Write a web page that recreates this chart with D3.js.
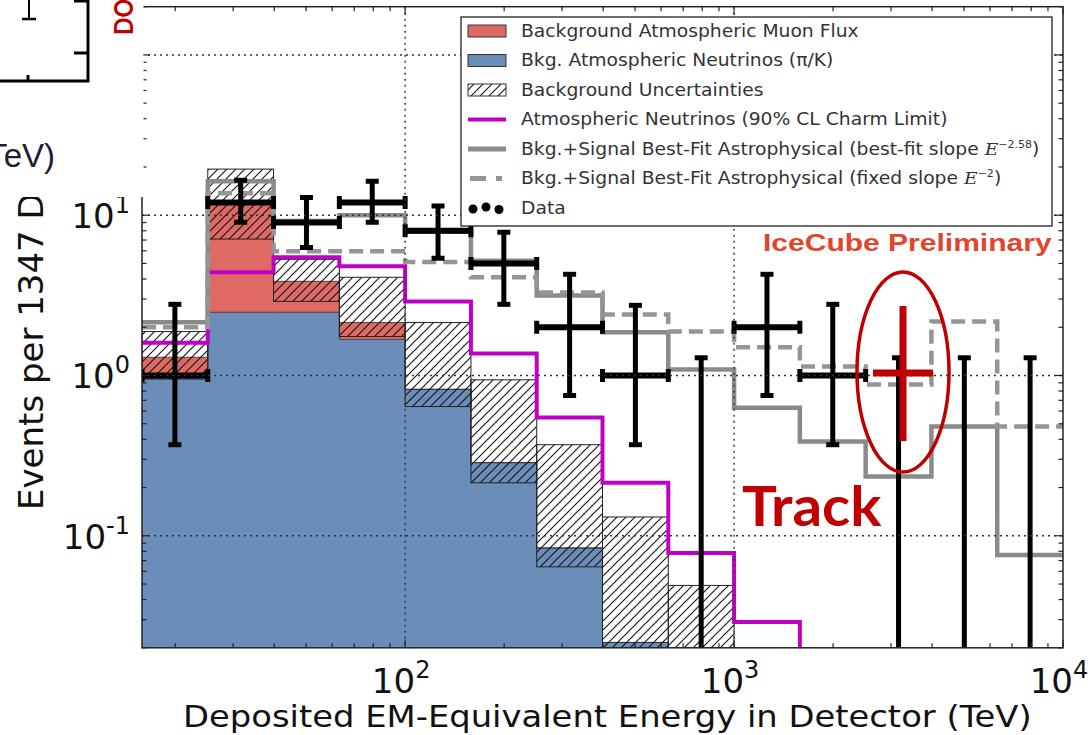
<!DOCTYPE html>
<html>
<head>
<meta charset="utf-8">
<script src="https://cdn.jsdelivr.net/npm/d3@7"></script>
<style>
  body { margin: 0; background: #fff; }
  svg { display: block; }
</style>
</head>
<body>
<svg id="chart" width="1092" height="735"></svg>
<script>
// Energy bin edges (TeV), 0.2 decades each
const binEdges = [15.85, 25.12, 39.81, 63.10, 100, 158.5, 251.2, 398.1, 631.0, 1000, 1585, 2512, 3981, 6310, 10000];

// Conventional atmospheric neutrinos (pi/K), events per bin
const convNeutrinos = [0.97, 2.48, 2.48, 1.68, 0.82, 0.286, 0.084, 0.0216, 0.006, 0.002, 0.0007, 0.0002, 0.00008, 0.00003];
// Atmospheric muons, stacked on top of the neutrinos
const muonFlux = [0.33, 9.8, 1.39, 0.46, 0, 0, 0, 0, 0, 0, 0, 0, 0, 0];
// Background uncertainty band
const bandLow = [0.95, 7.1, 2.9, 1.75, 0.64, 0.214, 0.064, 0.015, 0.004, 0.001, 0.0004, 0.0001, 0.00005, 0.00002];
const bandHigh = [1.88, 19.4, 5.31, 4.1, 2.14, 0.94, 0.37, 0.131, 0.049, 0.012, 0.005, 0.002, 0.001, 0.0005];
// 90% CL charm limit
const charmLimit = [1.60, 4.4, 5.46, 4.8, 2.9, 1.37, 0.546, 0.214, 0.078, 0.029, 0.009, 0.004, 0.002, 0.001];
// Background + astrophysical signal
const bestFitSlope = [2.15, 16.3, 9.2, 10.0, 7.9, 5.2, 3.16, 1.86, 1.09, 0.63, 0.387, 0.234, 0.48, 0.076];
const fixedSlope = [2.0, 13.7, 5.96, 5.96, 5.1, 4.1, 3.3, 2.4, 1.88, 1.5, 1.14, 0.88, 2.17, 0.48];

// Observed events and their error-bar extents
const dataCounts = [1, 12, 9, 12, 8, 5, 2, 1, 0, 2, 1, 0, 0, 0];
const dataErrLow = [0.37, 9.04, 6.3, 9.04, 5.39, 2.78, 0.75, 0.37, 0, 0.75, 0.37, 0, 0, 0];
const dataErrHigh = [2.78, 16.5, 12.9, 16.3, 11.4, 7.83, 4.28, 2.74, 1.29, 4.28, 2.78, 1.29, 1.29, 1.29];

// Axis ticks
const xMajorTicks = [100, 1000, 10000];
const xMajorExps = ["2", "3", "4"];
const yMajorTicks = [0.1, 1, 10];
const yMajorExps = ["-1", "0", "1"];
const gridX = [100, 1000];
const gridY = [0.1, 1, 10, 100];

const legendLabels = [
  "Background Atmospheric Muon Flux",
  "Bkg. Atmospheric Neutrinos (\u03c0/K)",
  "Background Uncertainties",
  "Atmospheric Neutrinos (90% CL Charm Limit)",
  "Bkg.+Signal Best-Fit Astrophysical (best-fit slope ",
  "Bkg.+Signal Best-Fit Astrophysical (fixed slope ",
  "Data"
];
const legendExps = [null, null, null, null, "\u22122.58", "\u22122", null];

const COL = {
  blue: "#6b8dba",
  red: "#df6a63",
  magenta: "#c000c8",
  gray: "#8a8a8a",
  grayDash: "#959595",
  annot: "#c00000",
  prelim: "#e2452c"
};

const plot = { left: 142, right: 1063, top: 6.7, bottom: 647.8 };
const svg = d3.select("#chart");

const x = d3.scaleLog().domain([binEdges[0], binEdges[binEdges.length - 1]]).range([plot.left, plot.right]);
const y = d3.scaleLog().domain([0.02, 200]).range([plot.bottom, plot.top]);
const yc = v => (v > 0 ? y(v) : plot.bottom + 60);

const defs = svg.append("defs");
defs.append("clipPath").attr("id", "plotClip")
  .append("rect")
  .attr("x", plot.left).attr("y", plot.top)
  .attr("width", plot.right - plot.left).attr("height", plot.bottom - plot.top);
const hatch = defs.append("pattern").attr("id", "hatch")
  .attr("patternUnits", "userSpaceOnUse").attr("width", 9).attr("height", 9);
hatch.append("path")
  .attr("d", "M-1,1 l2,-2 M0,9 l9,-9 M8,10 l2,-2")
  .attr("stroke", "#111").attr("stroke-width", 1.1);

const bins = d3.range(binEdges.length - 1).map(i => ({
  x0: binEdges[i], x1: binEdges[i + 1],
  conv: convNeutrinos[i], muon: muonFlux[i],
  lo: bandLow[i], hi: bandHigh[i],
  count: dataCounts[i], eLo: dataErrLow[i], eHi: dataErrHigh[i]
}));

const hist = svg.append("g").attr("clip-path", "url(#plotClip)");

// step helpers: one point per bin edge, last value repeated at the final edge
const stepPoints = vals => vals.map((v, i) => [binEdges[i], v]).concat([[binEdges[binEdges.length - 1], vals[vals.length - 1]]]);
const stepLine = d3.line().x(d => x(d[0])).y(d => yc(d[1])).curve(d3.curveStepAfter);
const totals = convNeutrinos.map((v, i) => v + muonFlux[i]);

// stacked background histogram
const convArea = d3.area().x(d => x(d[0])).y0(plot.bottom + 70).y1(d => yc(d[1])).curve(d3.curveStepAfter);
hist.append("path").attr("d", convArea(stepPoints(convNeutrinos))).attr("fill", COL.blue);
const muonPts = stepPoints(totals).map((p, i) => [p[0], p[1], stepPoints(convNeutrinos)[i][1]]);
const muonArea = d3.area().x(d => x(d[0])).y0(d => yc(d[2])).y1(d => yc(d[1])).curve(d3.curveStepAfter);
hist.append("path").attr("d", muonArea(muonPts)).attr("fill", COL.red);
hist.append("path").attr("d", stepLine(stepPoints(convNeutrinos)))
  .attr("fill", "none").attr("stroke", "#2a2a2a").attr("stroke-width", 0.8);
hist.append("path").attr("d", stepLine(stepPoints(totals)))
  .attr("fill", "none").attr("stroke", "#2a2a2a").attr("stroke-width", 0.8);

hist.selectAll("rect.band").data(bins).join("rect").attr("class", "band")
  .attr("x", d => x(d.x0)).attr("width", d => x(d.x1) - x(d.x0))
  .attr("y", d => yc(d.hi)).attr("height", d => yc(d.lo) - yc(d.hi))
  .attr("fill", "url(#hatch)").attr("stroke", "#222").attr("stroke-width", 1);

// model step outlines
hist.append("path").attr("d", stepLine(stepPoints(charmLimit)))
  .attr("fill", "none").attr("stroke", COL.magenta).attr("stroke-width", 4);
hist.append("path").attr("d", stepLine(stepPoints(bestFitSlope)))
  .attr("fill", "none").attr("stroke", COL.gray).attr("stroke-width", 4.5);
hist.append("path").attr("d", stepLine(stepPoints(fixedSlope)))
  .attr("fill", "none").attr("stroke", COL.grayDash).attr("stroke-width", 4.5)
  .attr("stroke-dasharray", "14,7");

// data points with error bars
const dataG = hist.append("g").attr("stroke", "#000").attr("stroke-width", 5);
bins.forEach(d => {
  const xc = x(Math.sqrt(d.x0 * d.x1));
  const yTop = yc(d.eHi);
  const yBot = d.count > 0 ? yc(d.eLo) : plot.bottom + 10;
  dataG.append("line").attr("x1", xc).attr("x2", xc).attr("y1", yTop).attr("y2", yBot);
  dataG.append("line").attr("x1", xc - 6.5).attr("x2", xc + 6.5).attr("y1", yTop).attr("y2", yTop);
  if (d.count > 0) {
    dataG.append("line").attr("x1", xc - 6.5).attr("x2", xc + 6.5).attr("y1", yBot).attr("y2", yBot);
    const yv = y(d.count);
    dataG.append("line").attr("x1", x(d.x0)).attr("x2", x(d.x1)).attr("y1", yv).attr("y2", yv).attr("stroke-width", 6);
    [d.x0, d.x1].forEach(e => {
      dataG.append("line").attr("x1", x(e)).attr("x2", x(e)).attr("y1", yv - 6.5).attr("y2", yv + 6.5);
    });
  }
});

// dotted grid
const grid = svg.append("g").attr("stroke", "#333").attr("stroke-width", 1.4).attr("stroke-dasharray", "2,4");
gridX.forEach(v => grid.append("line").attr("x1", x(v)).attr("x2", x(v)).attr("y1", plot.top).attr("y2", plot.bottom));
gridY.forEach(v => grid.append("line").attr("x1", plot.left).attr("x2", plot.right).attr("y1", y(v)).attr("y2", y(v)));

// frame and inward ticks
const frame = svg.append("g").attr("stroke", "#222").attr("fill", "none");
frame.append("rect").attr("x", plot.left).attr("y", plot.top)
  .attr("width", plot.right - plot.left).attr("height", plot.bottom - plot.top).attr("stroke-width", 1.5);
const xMinor = x.ticks().filter(v => xMajorTicks.indexOf(v) < 0 && v > binEdges[0]);
const yMinor = y.ticks().filter(v => yMajorTicks.indexOf(v) < 0 && v !== 100);
function tickX(v, len) {
  frame.append("line").attr("x1", x(v)).attr("x2", x(v)).attr("y1", plot.bottom).attr("y2", plot.bottom - len).attr("stroke-width", 1.2);
  frame.append("line").attr("x1", x(v)).attr("x2", x(v)).attr("y1", plot.top).attr("y2", plot.top + len).attr("stroke-width", 1.2);
}
function tickY(v, len) {
  frame.append("line").attr("y1", y(v)).attr("y2", y(v)).attr("x1", plot.left).attr("x2", plot.left + len).attr("stroke-width", 1.2);
  frame.append("line").attr("y1", y(v)).attr("y2", y(v)).attr("x1", plot.right).attr("x2", plot.right - len).attr("stroke-width", 1.2);
}
xMajorTicks.forEach(v => tickX(v, 8));
xMinor.forEach(v => tickX(v, 4.5));
yMajorTicks.concat([100]).forEach(v => tickY(v, 8));
yMinor.forEach(v => tickY(v, 4.5));

// tick labels
const FONT = "'DejaVu Sans', sans-serif";
const labels = svg.append("g").attr("font-family", FONT).attr("fill", "#111");
xMajorTicks.forEach((v, i) => {
  const t = labels.append("text").attr("x", x(v) - 4).attr("y", 693).attr("font-size", 34).attr("text-anchor", "middle");
  t.append("tspan").text("10");
  t.append("tspan").attr("dy", -15).attr("font-size", 24).text(xMajorExps[i]);
});
yMajorTicks.forEach((v, i) => {
  const t = labels.append("text").attr("x", 130).attr("y", y(v) + 13).attr("font-size", 34).attr("text-anchor", "end");
  t.append("tspan").text("10");
  t.append("tspan").attr("dy", -15).attr("font-size", 24).text(yMajorExps[i]);
});

// horizontal squeeze helper: maps a node's box onto [x0, x0 + w]
function fitBox(node, x0, w) {
  const bb = node.getBBox();
  d3.select(node).attr("transform", `translate(${x0},0) scale(${w / bb.width},1) translate(${-bb.x},0)`);
  return w / bb.width;
}

const xLabel = labels.append("text").attr("x", 0).attr("y", 727).attr("font-size", 31)
  .text("Deposited EM-Equivalent Energy in Detector (TeV)");
fitBox(xLabel.node(), 183, 849);

labels.append("text").attr("transform", "translate(43,510) rotate(-90)")
  .attr("font-size", 34).text("Events per 1347 D");

// legend
const lg = svg.append("g");
lg.append("rect").attr("x", 461).attr("y", 17).attr("width", 591).attr("height", 209)
  .attr("fill", "#fff").attr("stroke", "#222").attr("stroke-width", 1.3);
const rowY = i => 31 + i * 29.5;
lg.append("rect").attr("x", 468).attr("y", rowY(0) - 6).attr("width", 38).attr("height", 12).attr("fill", COL.red).attr("stroke", "#333");
lg.append("rect").attr("x", 468).attr("y", rowY(1) - 6).attr("width", 38).attr("height", 12).attr("fill", COL.blue).attr("stroke", "#333");
lg.append("rect").attr("x", 468).attr("y", rowY(2) - 6).attr("width", 38).attr("height", 12).attr("fill", "url(#hatch)").attr("stroke", "#333");
lg.append("line").attr("x1", 468).attr("x2", 506).attr("y1", rowY(3)).attr("y2", rowY(3)).attr("stroke", COL.magenta).attr("stroke-width", 4);
lg.append("line").attr("x1", 468).attr("x2", 506).attr("y1", rowY(4)).attr("y2", rowY(4)).attr("stroke", COL.gray).attr("stroke-width", 5);
lg.append("line").attr("x1", 470).attr("x2", 502).attr("y1", rowY(5)).attr("y2", rowY(5)).attr("stroke", COL.grayDash).attr("stroke-width", 5).attr("stroke-dasharray", "16,10");
[[473, 1], [486, -1], [499, 1.5]].forEach(p => lg.append("circle").attr("cx", p[0]).attr("cy", rowY(6) + p[1]).attr("r", 4.5).attr("fill", "#000"));

const legText = lg.append("g").attr("font-family", FONT).attr("font-size", 17).attr("fill", "#333");
let legScale = 1;
legendLabels.forEach((s, i) => {
  const t = legText.append("text").attr("x", 0).attr("y", rowY(i) + 6);
  t.append("tspan").text(s);
  if (legendExps[i]) {
    t.append("tspan").attr("font-family", "'DejaVu Serif', serif").attr("font-style", "italic").text("E");
    t.append("tspan").attr("dy", -7).attr("font-size", 10).text(legendExps[i]);
    t.append("tspan").attr("dy", 7).text(")");
  }
  if (i === 0) {
    legScale = fitBox(t.node(), 521, 338);
  } else {
    const bb = t.node().getBBox();
    t.attr("transform", `translate(521,0) scale(${legScale},1) translate(${-bb.x},0)`);
  }
});

// annotations
const ann = svg.append("g");
const prelim = ann.append("text").attr("y", 251).attr("font-family", "'Liberation Sans', Arial, sans-serif")
  .attr("font-weight", "bold").attr("font-size", 23).attr("fill", COL.prelim).text("IceCube Preliminary");
fitBox(prelim.node(), 763, 289);
const track = ann.append("text").attr("y", 526).attr("font-family", "Lato, 'Open Sans', sans-serif")
  .attr("font-weight", "bold").attr("font-size", 55).attr("fill", COL.annot).text("Track");
fitBox(track.node(), 742, 140);
ann.append("ellipse").attr("cx", 903).attr("cy", 372).attr("rx", 46).attr("ry", 100)
  .attr("fill", "none").attr("stroke", COL.annot).attr("stroke-width", 3.5);
ann.append("line").attr("x1", 903).attr("x2", 903).attr("y1", 306).attr("y2", 441).attr("stroke", COL.annot).attr("stroke-width", 7);
ann.append("line").attr("x1", 873).attr("x2", 933).attr("y1", 373).attr("y2", 373).attr("stroke", COL.annot).attr("stroke-width", 7);

// neighbouring panel in the upper left corner
const side = svg.append("g");
side.append("rect").attr("x", 0).attr("y", 0).attr("width", 143.5).attr("height", 197).attr("fill", "#fff");
const sp = side.append("g").attr("stroke", "#000").attr("fill", "none");
sp.append("path").attr("d", "M0,81 H88 V0").attr("stroke-width", 3);
sp.append("line").attr("x1", 74).attr("x2", 88).attr("y1", 53).attr("y2", 53).attr("stroke-width", 3);
sp.append("line").attr("x1", 74).attr("x2", 88).attr("y1", 1).attr("y2", 1).attr("stroke-width", 3);
sp.append("line").attr("x1", 28).attr("x2", 28).attr("y1", 75).attr("y2", 81).attr("stroke-width", 3);
sp.append("line").attr("x1", 29).attr("x2", 29).attr("y1", 0).attr("y2", 19).attr("stroke-width", 2);
sp.append("line").attr("x1", 22).attr("x2", 36).attr("y1", 19).attr("y2", 19).attr("stroke-width", 2.5);
side.append("text").attr("x", 55).attr("y", 167).attr("text-anchor", "end")
  .attr("font-family", "'Liberation Sans', Arial, sans-serif").attr("font-size", 33).attr("fill", "#1c1c33").text("TeV)");
side.append("text").attr("transform", "translate(133,35) rotate(-90)")
  .attr("font-family", "Lato, sans-serif").attr("font-weight", "bold").attr("font-size", 27)
  .attr("fill", COL.annot).attr("textLength", 36).attr("lengthAdjust", "spacingAndGlyphs").text("DO");
</script>
</body>
</html>
